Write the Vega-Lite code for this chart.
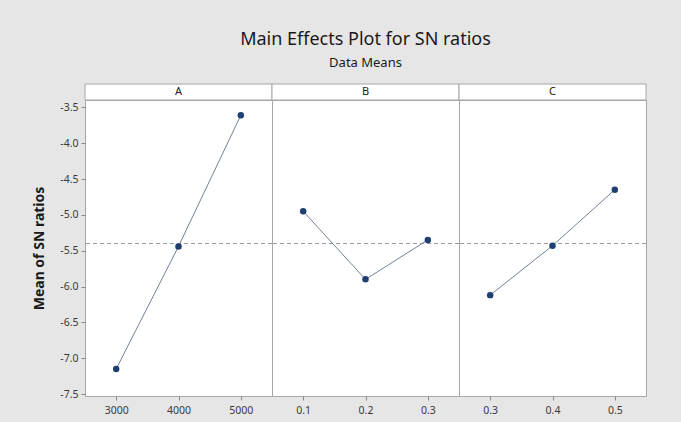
{
  "$schema": "https://vega.github.io/schema/vega-lite/v6.json",
  "background": "#e6e6e6",
  "padding": {"left": 32, "top": 30, "right": 34, "bottom": 6},
  "datasets": {
    "effects": [
      {"factor": "A", "level": "3000", "snr": -7.15},
      {"factor": "A", "level": "4000", "snr": -5.44},
      {"factor": "A", "level": "5000", "snr": -3.61},
      {"factor": "B", "level": "0.1", "snr": -4.95},
      {"factor": "B", "level": "0.2", "snr": -5.90},
      {"factor": "B", "level": "0.3", "snr": -5.35},
      {"factor": "C", "level": "0.3", "snr": -6.12},
      {"factor": "C", "level": "0.4", "snr": -5.43},
      {"factor": "C", "level": "0.5", "snr": -4.65}
    ],
    "overall": [{"snr": -5.40}],
    "strips": [{"panel": "A"}, {"panel": "B"}, {"panel": "C"}]
  },
  "columns": 3,
  "spacing": 0,
  "bounds": "flush",
  "align": "each",
  "concat": [
    {
      "width": 187, "height": 16,
      "data": {"name": "strips"},
      "transform": [{"filter": "datum.panel === 'A'"}],
      "layer": [
        {"mark": {"type": "rect", "fill": "white", "stroke": "#a6a6a6", "strokeWidth": 1}, "encoding": {}},
        {"mark": {"type": "text", "fontSize": 11, "color": "#222222"}, "encoding": {"text": {"field": "panel"}}}
      ]
    },
    {
      "width": 187, "height": 16,
      "title": {
        "text": "Main Effects Plot for SN ratios",
        "subtitle": "Data Means",
        "fontSize": 18,
        "fontWeight": "normal",
        "subtitleFontSize": 13,
        "color": "#1a1a1a",
        "subtitleColor": "#1a1a1a",
        "anchor": "middle",
        "frame": "group",
        "offset": 14,
        "subtitlePadding": 8
      },
      "data": {"name": "strips"},
      "transform": [{"filter": "datum.panel === 'B'"}],
      "layer": [
        {"mark": {"type": "rect", "fill": "white", "stroke": "#a6a6a6", "strokeWidth": 1}, "encoding": {}},
        {"mark": {"type": "text", "fontSize": 11, "color": "#222222"}, "encoding": {"text": {"field": "panel"}}}
      ]
    },
    {
      "width": 187, "height": 16,
      "data": {"name": "strips"},
      "transform": [{"filter": "datum.panel === 'C'"}],
      "layer": [
        {"mark": {"type": "rect", "fill": "white", "stroke": "#a6a6a6", "strokeWidth": 1}, "encoding": {}},
        {"mark": {"type": "text", "fontSize": 11, "color": "#222222"}, "encoding": {"text": {"field": "panel"}}}
      ]
    },
    {
      "width": 187, "height": 296,
      "data": {"name": "effects"},
      "transform": [{"filter": "datum.factor === 'A'"}],
      "encoding": {
        "y": {
          "field": "snr", "type": "quantitative",
          "scale": {"domain": [-7.527, -3.398], "nice": false, "zero": false},
          "axis": {
            "title": "Mean of SN ratios",
            "values": [-7.5, -7, -6.5, -6, -5.5, -5, -4.5, -4, -3.5],
            "labelExpr": "replace(format(datum.value, '.1f'), '\u2212', '-')",
            "domain": false, "grid": false,
            "tickSize": 4, "tickColor": "#888888",
            "labelFontSize": 10.5, "labelColor": "#3a3a3a", "labelPadding": 3,
            "titleFontSize": 14, "titleFontWeight": "bold", "titleColor": "#1a1a1a", "titlePadding": 13
          }
        }
      },
      "layer": [
        {
          "data": {"name": "overall"},
          "mark": {"type": "rule", "strokeDash": [4, 3], "color": "#9a9a9a", "strokeWidth": 1},
          "encoding": {}
        },
        {
          "mark": {"type": "line", "color": "#6f8299", "strokeWidth": 1},
          "encoding": {
            "x": {"field": "level", "type": "ordinal", "sort": null,
              "scale": {"type": "point", "padding": 0.5},
              "axis": {"title": null, "labelAngle": 0, "domain": false, "grid": false, "tickSize": 4, "tickColor": "#888888", "labelFontSize": 10.5, "labelColor": "#3a3a3a", "labelPadding": 5}}
          }
        },
        {
          "mark": {"type": "point", "filled": true, "size": 42, "color": "#1f3f73", "opacity": 1},
          "encoding": {
            "x": {"field": "level", "type": "ordinal", "sort": null}
          }
        }
      ]
    },
    {
      "width": 187, "height": 296,
      "data": {"name": "effects"},
      "transform": [{"filter": "datum.factor === 'B'"}],
      "encoding": {
        "y": {
          "field": "snr", "type": "quantitative",
          "scale": {"domain": [-7.527, -3.398], "nice": false, "zero": false},
          "axis": null
        }
      },
      "layer": [
        {
          "data": {"name": "overall"},
          "mark": {"type": "rule", "strokeDash": [4, 3], "color": "#9a9a9a", "strokeWidth": 1},
          "encoding": {}
        },
        {
          "mark": {"type": "line", "color": "#6f8299", "strokeWidth": 1},
          "encoding": {
            "x": {"field": "level", "type": "ordinal", "sort": null,
              "scale": {"type": "point", "padding": 0.5},
              "axis": {"title": null, "labelAngle": 0, "domain": false, "grid": false, "tickSize": 4, "tickColor": "#888888", "labelFontSize": 10.5, "labelColor": "#3a3a3a", "labelPadding": 5}}
          }
        },
        {
          "mark": {"type": "point", "filled": true, "size": 42, "color": "#1f3f73", "opacity": 1},
          "encoding": {
            "x": {"field": "level", "type": "ordinal", "sort": null}
          }
        }
      ]
    },
    {
      "width": 187, "height": 296,
      "data": {"name": "effects"},
      "transform": [{"filter": "datum.factor === 'C'"}],
      "encoding": {
        "y": {
          "field": "snr", "type": "quantitative",
          "scale": {"domain": [-7.527, -3.398], "nice": false, "zero": false},
          "axis": null
        }
      },
      "layer": [
        {
          "data": {"name": "overall"},
          "mark": {"type": "rule", "strokeDash": [4, 3], "color": "#9a9a9a", "strokeWidth": 1},
          "encoding": {}
        },
        {
          "mark": {"type": "line", "color": "#6f8299", "strokeWidth": 1},
          "encoding": {
            "x": {"field": "level", "type": "ordinal", "sort": null,
              "scale": {"type": "point", "padding": 0.5},
              "axis": {"title": null, "labelAngle": 0, "domain": false, "grid": false, "tickSize": 4, "tickColor": "#888888", "labelFontSize": 10.5, "labelColor": "#3a3a3a", "labelPadding": 5}}
          }
        },
        {
          "mark": {"type": "point", "filled": true, "size": 42, "color": "#1f3f73", "opacity": 1},
          "encoding": {
            "x": {"field": "level", "type": "ordinal", "sort": null}
          }
        }
      ]
    }
  ],
  "config": {
    "font": "Noto Sans",
    "view": {"stroke": "#a6a6a6", "fill": "white", "strokeWidth": 1}
  }
}
